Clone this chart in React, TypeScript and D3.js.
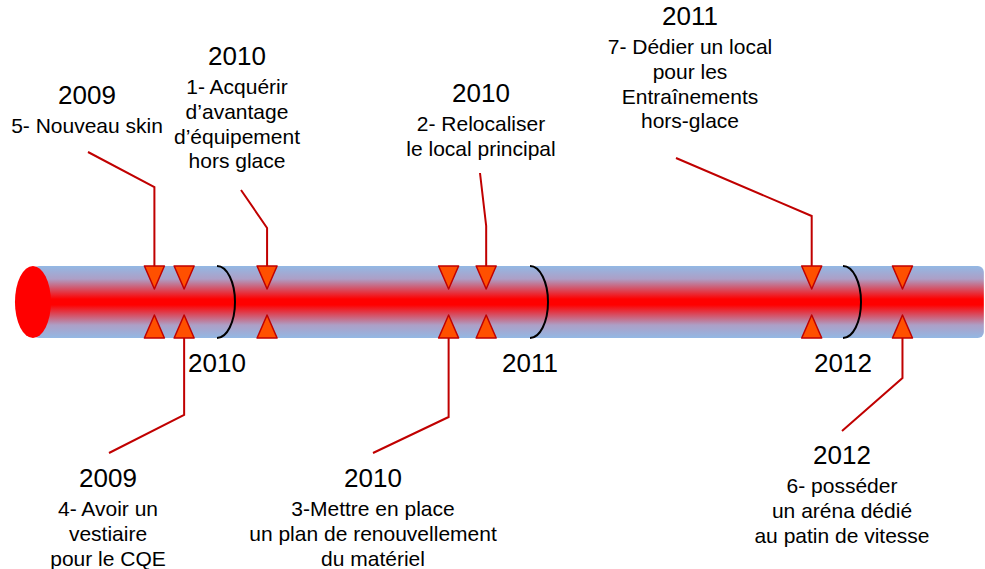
import * as d3 from "d3";
import React from "react";

// events: decimal year position on the tube
const eventIds = [5, 4, 1, 3, 2, 7, 6];
const eventTimes = [2009.8, 2009.895, 2010.16, 2010.74, 2010.86, 2011.9, 2012.19];
const eventYears = ["2009", "2009", "2010", "2010", "2010", "2011", "2012"];
const eventSides = ["top", "bottom", "top", "bottom", "top", "top", "bottom"];
const eventTexts = [
  ["5- Nouveau skin"],
  ["4- Avoir un", "vestiaire", "pour le CQE"],
  ["1- Acquérir", "d\u2019avantage", "d\u2019équipement", "hors glace"],
  ["3-Mettre en place", "un plan de renouvellement", "du matériel"],
  ["2- Relocaliser", "le local principal"],
  ["7- Dédier un local", "pour les", "Entraînements", "hors-glace"],
  ["6- posséder", "un aréna dédié", "au patin de vitesse"],
];
const yearTicks = [2010, 2011, 2012];

// layout for the callouts (label centre, year baseline, leader start / bend)
const calloutLayout = [
  { cx: 87, baseY: 104, lx: 88, ly: 152, bendY: 187 },
  { cx: 108, baseY: 487, lx: 109, ly: 453, bendY: 415 },
  { cx: 237, baseY: 65, lx: 241, ly: 190, bendY: 228 },
  { cx: 373, baseY: 487, lx: 373, ly: 453, bendY: 417 },
  { cx: 481, baseY: 102, lx: 480, ly: 173, bendY: 226 },
  { cx: 690, baseY: 25, lx: 676, ly: 158, bendY: 216 },
  { cx: 842, baseY: 464, lx: 842, ly: 431, bendY: 378 },
];

const W = 985;
const H = 569;
const tubeTop = 266;
const tubeBot = 338;
const tubeMid = (tubeTop + tubeBot) / 2;
const FONT = "'Liberation Sans', Arial, sans-serif";

export default function App() {
  const x = d3.scaleLinear().domain([2010, 2011]).range([217, 530]);
  const tubeLeft = x(2009.412);
  const tubeRight = x(2012.45);
  const triW = 10;
  const triH = 23;
  const line = d3.line();

  return (
    <svg
      width={W}
      height={H}
      style={{ position: "absolute", left: 0, top: 0, display: "block", background: "#fff" }}
      fontFamily={FONT}
    >
      <defs>
        <linearGradient id="tube" x1="0" y1="0" x2="0" y2="1">
          <stop offset="0%" stopColor="#93b8e4" />
          <stop offset="18%" stopColor="#ad9fc6" />
          <stop offset="46%" stopColor="#ff0000" />
          <stop offset="54%" stopColor="#ff0000" />
          <stop offset="82%" stopColor="#ad9fc6" />
          <stop offset="100%" stopColor="#93b8e4" />
        </linearGradient>
      </defs>

      {/* tube */}
      <rect
        x={tubeLeft}
        y={tubeTop}
        width={tubeRight - tubeLeft}
        height={tubeBot - tubeTop}
        rx={6}
        fill="url(#tube)"
      />
      <ellipse cx={tubeLeft} cy={tubeMid} rx={18} ry={(tubeBot - tubeTop) / 2} fill="#ff0000" />

      {/* year separators */}
      {yearTicks.map((yr) => (
        <g key={yr}>
          <path
            d={`M${x(yr)},${tubeTop} A18,36 0 0 1 ${x(yr)},${tubeBot}`}
            fill="none"
            stroke="#000"
            strokeWidth={2}
          />
          <text x={x(yr)} y={372} fontSize={26} textAnchor="middle" fill="#000">
            {yr}
          </text>
        </g>
      ))}

      {/* leader lines */}
      {eventTimes.map((t, i) => {
        const L = calloutLayout[i];
        const px = x(t);
        const pts: [number, number][] =
          eventSides[i] === "top"
            ? [[L.lx, L.ly], [px, L.bendY], [px, tubeTop]]
            : [[px, tubeBot], [px, L.bendY], [L.lx, L.ly]];
        return (
          <path key={"l" + i} d={line(pts) || ""} fill="none" stroke="#c00000" strokeWidth={2} />
        );
      })}

      {/* markers */}
      {eventTimes.map((t, i) => {
        const px = x(t);
        return (
          <g key={"m" + i} fill="#ff5000" stroke="#c00000" strokeWidth={1.5} strokeLinejoin="round">
            <path d={`M${px - triW},${tubeTop}L${px + triW},${tubeTop}L${px},${tubeTop + triH}Z`} />
            <path d={`M${px - triW},${tubeBot}L${px + triW},${tubeBot}L${px},${tubeBot - triH}Z`} />
          </g>
        );
      })}

      {/* callout labels */}
      {eventIds.map((id, i) => {
        const L = calloutLayout[i];
        return (
          <g key={"t" + id} textAnchor="middle" fill="#000">
            <text x={L.cx} y={L.baseY} fontSize={26}>
              {eventYears[i]}
            </text>
            {eventTexts[i].map((s, j) => (
              <text key={j} x={L.cx} y={L.baseY + 29 + j * 24.8} fontSize={21}>
                {s}
              </text>
            ))}
          </g>
        );
      })}
    </svg>
  );
}
